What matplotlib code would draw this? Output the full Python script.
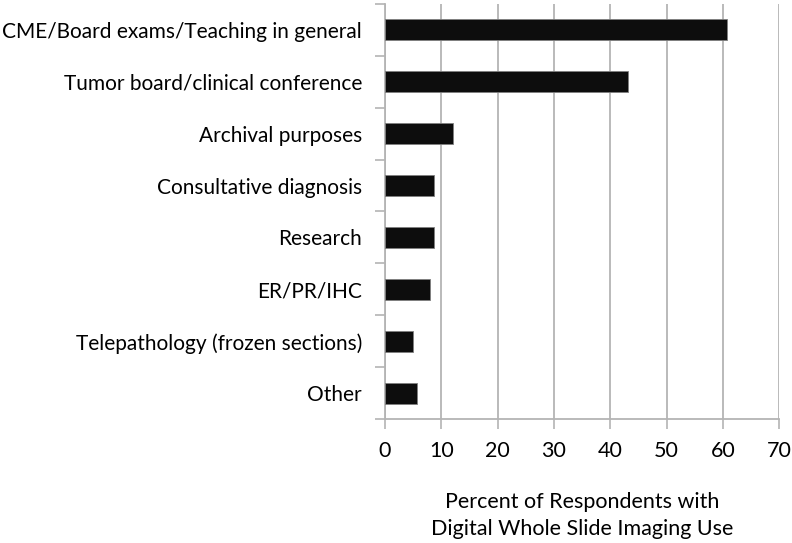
import matplotlib.pyplot as plt
import numpy as np

# data
categories = ['CME/Board exams/Teaching in general',
              'Tumor board/clinical conference',
              'Archival purposes',
              'Consultative diagnosis',
              'Research',
              'ER/PR/IHC',
              'Telepathology (frozen sections)',
              'Other']
values = [60.7, 43.2, 12.1, 8.8, 8.8, 8.0, 4.9, 5.7]
xticks = [0, 10, 20, 30, 40, 50, 60, 70]

plt.rcParams['font.family'] = ['Lato', 'DejaVu Sans']
grey = '#b4b4b4'

fig = plt.figure(figsize=(7.92, 5.43), dpi=100)
ax = fig.add_axes([0.486, 0.228, 0.498, 0.765])

y = np.arange(len(categories))
ax.barh(y, values, height=0.4, color='#0d0d0d', edgecolor='#808080', linewidth=0.6, zorder=3)

ax.set_xlim(0, 70)
ax.set_ylim(len(categories) - 0.5, -0.5)
ax.set_xticks(xticks)
ax.set_xticklabels([str(t) for t in xticks], fontsize=15.5)
ax.set_yticks(y)
ax.set_yticklabels(categories, fontsize=15)
ax.tick_params(axis='y', which='major', length=0, pad=16.5)
ax.set_yticks(np.arange(-0.5, len(categories)), minor=True)
ax.tick_params(axis='y', which='minor', length=7, color=grey, width=1.2)
ax.tick_params(axis='x', length=7, color=grey, width=1.2, pad=9)

ax.grid(axis='x', color=grey, linewidth=1.3, zorder=0)
for s in ['top', 'right']:
    ax.spines[s].set_visible(False)
for s in ['left', 'bottom']:
    ax.spines[s].set_color(grey)
    ax.spines[s].set_linewidth(1.3)

ax.set_xlabel('Percent of Respondents with\nDigital Whole Slide Imaging Use',
              fontsize=15.5, labelpad=22, linespacing=1.42)

fig.savefig('out.png', dpi=100)
